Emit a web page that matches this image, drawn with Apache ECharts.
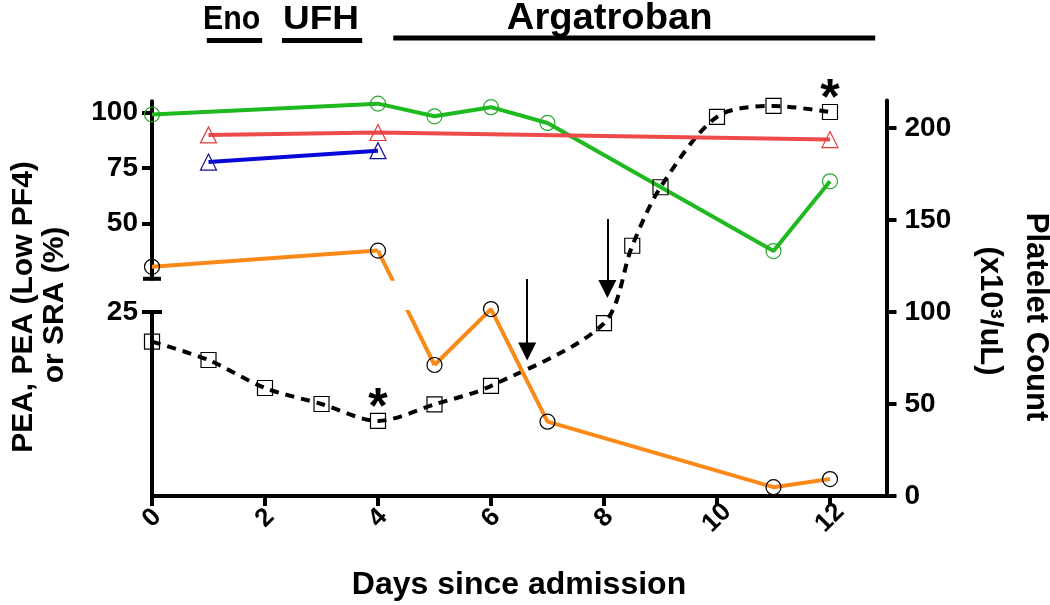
<!DOCTYPE html>
<html><head><meta charset="utf-8">
<script src="https://cdn.jsdelivr.net/npm/echarts@6/dist/echarts.min.js"></script>
<style>html,body{margin:0;padding:0;background:#fff}#c{width:1050px;height:605px}</style>
</head><body><div id="c"></div>
<script>
// ---------------- data ----------------
const dayTicks = [0, 2, 4, 6, 8, 10, 12];
const plateletTicks = [0, 50, 100, 150, 200];
const upperTicks = [50, 75, 100];
const lowerTicks = [25];

const plateletDays = [0, 1, 2, 3, 4, 5, 6, 8, 8.5, 9, 10, 11, 12];
const plateletCount = [83.9, 73.9, 58.7, 50, 40.8, 49.8, 59.8, 93.9, 136, 167.8, 206.1, 212, 208.7];

const greenDays = [0, 4, 5, 6, 7, 11, 12];
const greenValues = [99, 103.9, 98.2, 102.3, 95.2, 37.5, 68.9];

const redDays = [1, 4, 12];
const redValues = [89.8, 90.9, 87.7];

const blueDays = [1, 4];
const blueValues = [77.6, 82.7];

const orangeDays = [0, 4, 5, 6, 7, 11, 12];
const orangeValues = [30.4, 37.7, 17.8, 25.4, 10.1, 1.2, 2.3];
const orangeBreakAfter = 1; // last index drawn on the upper (broken) segment

const asteriskDays = [4, 12];

const arrowDays = [6.64, 8.06];
const arrowFrom = [118, 150.5];
const arrowTo = [78.5, 112.5];

const treatments = ['Eno', 'UFH', 'Argatroban'];
const treatmentStart = [0.97, 2.3, 4.27];
const treatmentEnd = [1.95, 3.72, 12.8];
const treatmentLabelDay = [1.41, 2.99, 8.1];

// ---------------- chart ----------------
const FONT = '"Liberation Sans", Arial, Helvetica, sans-serif';
const pairs = (xs, ys) => xs.map((x, i) => [x, ys[i]]);
const chart = echarts.init(document.getElementById('c'), null, {renderer: 'canvas'});
const axisLine = {show: true, onZero: false, lineStyle: {color: '#000', width: 4}};
const tickStyle = {color: '#000', width: 4};
const labelStyle = {fontSize: 28, fontWeight: 'bold', color: '#000', fontFamily: FONT};
const hollow = c => ({color: 'rgba(0,0,0,0)', borderColor: c, borderWidth: 1.2});

const gridL = 152, gridR = 163.5;

const option = {
  animation: false,
  backgroundColor: '#fff',
  grid: [
    {left: gridL, right: gridR, top: 100.4, height: 395.6, outerBoundsMode: 'none'},
    {left: gridL, right: gridR, top: 101.2, height: 177.6, outerBoundsMode: 'none'},
    {left: gridL, right: gridR, top: 312, height: 184, outerBoundsMode: 'none'}
  ],
  xAxis: [
    {gridIndex: 0, type: 'value', min: 0, max: 13, position: 'bottom',
      axisLine: axisLine,
      axisTick: {show: true, length: 10, lineStyle: tickStyle, customValues: dayTicks},
      axisLabel: Object.assign({customValues: dayTicks, rotate: 45, margin: 22,
        align: 'center', verticalAlign: 'middle'}, labelStyle, {fontSize: 26}),
      splitLine: {show: false}},
    {gridIndex: 1, type: 'value', min: 0, max: 13, show: false},
    {gridIndex: 2, type: 'value', min: 0, max: 13, show: false}
  ],
  yAxis: [
    {gridIndex: 0, type: 'value', min: 0, max: 215, position: 'right',
      axisLine: axisLine,
      axisTick: {show: true, length: 10, lineStyle: tickStyle, customValues: plateletTicks},
      axisLabel: Object.assign({customValues: plateletTicks, margin: 18}, labelStyle),
      splitLine: {show: false}},
    {gridIndex: 1, type: 'value', min: 25, max: 105, position: 'left',
      axisLine: axisLine,
      axisTick: {show: true, length: 10, lineStyle: tickStyle, customValues: upperTicks},
      axisLabel: Object.assign({customValues: upperTicks, margin: 14}, labelStyle),
      splitLine: {show: false}},
    {gridIndex: 2, type: 'value', min: 0, max: 25, position: 'left',
      axisLine: axisLine,
      axisTick: {show: true, length: 10, lineStyle: tickStyle, customValues: lowerTicks},
      axisLabel: Object.assign({customValues: lowerTicks, margin: 14}, labelStyle),
      splitLine: {show: false}}
  ],
  series: [
    {id: 'platelet', type: 'line', xAxisIndex: 0, yAxisIndex: 0,
      data: pairs(plateletDays, plateletCount), smooth: 0.3,
      symbol: 'rect', symbolSize: 15, showAllSymbol: true, clip: false,
      lineStyle: {color: '#000', width: 4, type: [9, 7]},
      itemStyle: hollow('#000'), emphasis: {disabled: true},
      markLine: {silent: true, animation: false, symbol: ['none', 'triangle'], symbolSize: 18,
        lineStyle: {color: '#000', width: 2, type: 'solid'}, label: {show: false},
        emphasis: {disabled: true},
        data: arrowDays.map((d, i) => [{coord: [d, arrowFrom[i]]}, {coord: [d, arrowTo[i]]}])}},
    {id: 'stars', type: 'scatter', xAxisIndex: 0, yAxisIndex: 0, silent: true,
      data: asteriskDays.map(d => [d, plateletCount[plateletDays.indexOf(d)]]),
      symbolSize: 1, itemStyle: {color: 'rgba(0,0,0,0)'},
      label: {show: true, formatter: '*', position: 'inside', offset: [0, -12],
        fontSize: 50, fontWeight: 'bold', color: '#000', textBorderWidth: 0, opacity: 1, fontFamily: FONT}},
    {id: 'green', type: 'line', xAxisIndex: 1, yAxisIndex: 1, data: pairs(greenDays, greenValues),
      symbol: 'circle', symbolSize: 15, showAllSymbol: true, clip: false,
      lineStyle: {color: '#1fba1f', width: 4}, itemStyle: hollow('#2aa82a'), emphasis: {disabled: true}},
    {id: 'red', type: 'line', xAxisIndex: 1, yAxisIndex: 1, data: pairs(redDays, redValues),
      symbol: 'triangle', symbolSize: 16, showAllSymbol: true, clip: false,
      lineStyle: {color: '#ee4a4a', width: 4}, itemStyle: hollow('#e03a3a'), emphasis: {disabled: true}},
    {id: 'blue', type: 'line', xAxisIndex: 1, yAxisIndex: 1, data: pairs(blueDays, blueValues),
      symbol: 'triangle', symbolSize: 16, showAllSymbol: true, clip: false,
      lineStyle: {color: '#0808d8', width: 4}, itemStyle: hollow('#101090'), emphasis: {disabled: true}},
    {id: 'orangeUp', type: 'line', xAxisIndex: 1, yAxisIndex: 1,
      data: pairs(orangeDays.slice(0, orangeBreakAfter + 1), orangeValues.slice(0, orangeBreakAfter + 1)),
      symbol: 'circle', symbolSize: 15, showAllSymbol: true, clip: false,
      lineStyle: {color: '#fa8a18', width: 4}, itemStyle: hollow('#000'), emphasis: {disabled: true}},
    {id: 'orangeBridgeUp', type: 'line', xAxisIndex: 1, yAxisIndex: 1, data: [], symbol: 'none', clip: true,
      lineStyle: {color: '#fa8a18', width: 4}, emphasis: {disabled: true}},
    {id: 'orangeBridgeLow', type: 'line', xAxisIndex: 2, yAxisIndex: 2, data: [], symbol: 'none', clip: true,
      lineStyle: {color: '#fa8a18', width: 4}, emphasis: {disabled: true}},
    {id: 'orangeLow', type: 'line', xAxisIndex: 2, yAxisIndex: 2,
      data: pairs(orangeDays.slice(orangeBreakAfter + 1), orangeValues.slice(orangeBreakAfter + 1)),
      symbol: 'circle', symbolSize: 15, showAllSymbol: true, clip: false,
      lineStyle: {color: '#fa8a18', width: 4}, itemStyle: hollow('#000'), emphasis: {disabled: true}}
  ]
};
chart.setOption(option);

// bridge segment across the axis break, converted through the two axes' own scales
const a = [orangeDays[orangeBreakAfter], orangeValues[orangeBreakAfter]];
const b = [orangeDays[orangeBreakAfter + 1], orangeValues[orangeBreakAfter + 1]];
const pa = chart.convertToPixel({gridIndex: 1}, a);
const pb = chart.convertToPixel({gridIndex: 2}, b);
const bUp = chart.convertFromPixel({gridIndex: 1}, pb);
const aLow = chart.convertFromPixel({gridIndex: 2}, pa);

const xPix = d => chart.convertToPixel({gridIndex: 0}, [d, 0])[0];
const txt = (id, text, x, y, size, rot, sx, sy) => ({
  type: 'text', id: id, x: x, y: y, rotation: rot || 0, scaleX: sx || 1, scaleY: sy || 1, silent: true,
  style: {text: text, font: 'bold ' + size + 'px ' + FONT, fill: '#000',
    align: 'center', verticalAlign: 'middle', textAlign: 'center', textVerticalAlign: 'middle'}
});
const hline = (id, x1, x2, y, w) => ({type: 'line', id: id, silent: true,
  shape: {x1: x1, y1: y, x2: x2, y2: y}, style: {stroke: '#000', lineWidth: w}});

const axisX = xPix(0);
const upperCapY = chart.convertToPixel({gridIndex: 1}, [0, 25])[1];
const lowerCapY = chart.convertToPixel({gridIndex: 2}, [0, 25])[1];

const headerSize = [33, 33, 36];
const headerScaleX = [0.92, 1.12, 1.06];
const headerTextY = [20, 20, 19];
const headerBarY = [40.5, 40.5, 38];

const graphics = [];
treatments.forEach((t, i) => {
  graphics.push(txt('ht' + i, t, xPix(treatmentLabelDay[i]), headerTextY[i], headerSize[i], 0, headerScaleX[i], 1));
  graphics.push(hline('hb' + i, xPix(treatmentStart[i]), xPix(treatmentEnd[i]), headerBarY[i], 5));
});
graphics.push(hline('capU', axisX - 9, axisX + 9, upperCapY, 4));
graphics.push(hline('capL', axisX - 10, axisX + 10, lowerCapY, 4));
graphics.push(txt('yl1', 'PEA, PEA (Low PF4)', 24, 307, 30, Math.PI / 2));
graphics.push(txt('yl2', 'or SRA (%)', 55, 305, 30, Math.PI / 2));
graphics.push(txt('yr1', 'Platelet Count', 1036, 317, 31, -Math.PI / 2));
graphics.push(txt('yr2', '(x10³/uL)', 990, 311, 31, -Math.PI / 2));
graphics.push(txt('xt', 'Days since admission', 519, 585, 32));

chart.setOption({
  series: [
    {id: 'orangeBridgeUp', data: [a, bUp]},
    {id: 'orangeBridgeLow', data: [aLow, b]}
  ],
  graphic: graphics
});
</script></body></html>
